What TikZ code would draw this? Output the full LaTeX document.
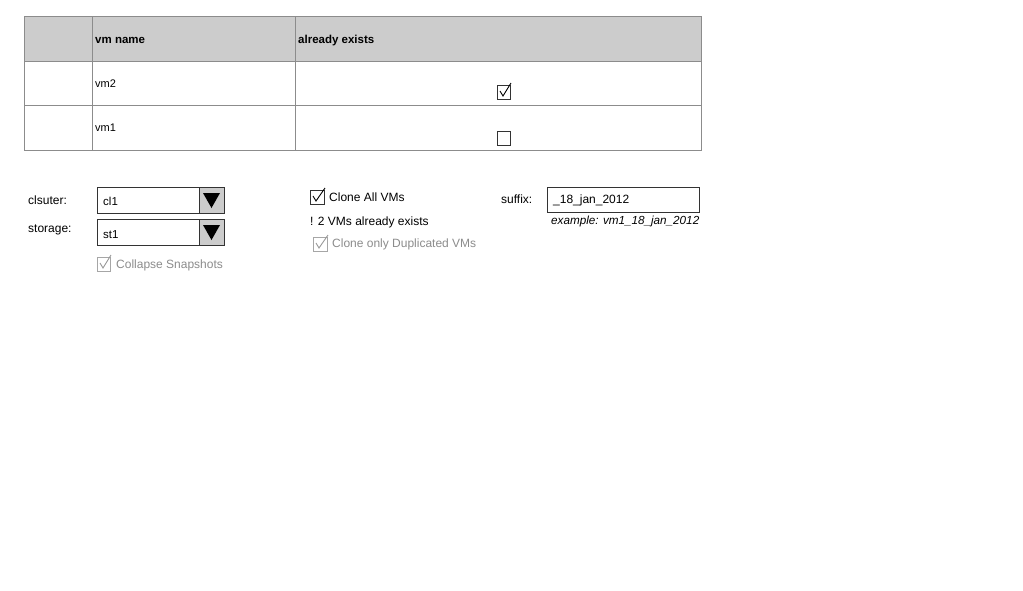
\documentclass[tikz,border=0pt]{standalone}
\usepackage{fontspec}
\setmainfont{Liberation Sans}
\begin{document}
\begin{tikzpicture}[x=1pt,y=-1pt,
  every node/.style={inner sep=0pt,anchor=base west,font=\fontsize{12}{14}\selectfont},
  grid/.style={draw=black!45,line width=0.8pt},
  cbox/.style={draw=black!80,line width=0.8pt,fill=white},
  gbox/.style={draw=black!35,line width=0.8pt,fill=white},
  field/.style={draw=black!80,line width=1pt,fill=white},
  btn/.style={draw=black!80,line width=1pt,fill=black!20},
  cell/.style={font=\fontsize{11}{13}\selectfont},
  glbl/.style={text=black!45},
  hdr/.style={font=\fontsize{11.5}{13}\selectfont\bfseries}]
\useasboundingbox[fill=white] (0,0) rectangle (1023,590);
% table
\fill[black!20] (24,16) rectangle (701,61);
\draw[grid] (24,16) rectangle (701,150);
\draw[grid] (24,61) -- (701,61);
\draw[grid] (24,105) -- (701,105);
\draw[grid] (92,16) -- (92,150);
\draw[grid] (295,16) -- (295,150);
\node[hdr] (h1) at (95,43) {vm name};
\node[hdr] (h2) at (298,43) {already exists};
\node[cell] (r1) at (95,87) {vm2};
\node[cell] (r2) at (95,131) {vm1};
\draw[cbox] (497,85) rectangle (510,99);
\draw[line width=0.9pt] (500,91) -- (503,96) -- (511,83);
\draw[cbox] (497,131) rectangle (510,145);
% cluster
\node (cl) at (28,204) {clsuter:};
\draw[field] (97,187) rectangle (224,213);
\draw[btn] (199,187) rectangle (224,213);
\fill (203,193) -- (220,193) -- (211.5,208) -- cycle;
\node[font=\fontsize{11.5}{13}\selectfont] (clv) at (103,205) {cl1};
\node (st) at (28,232) {storage:};
\draw[field] (97,219) rectangle (224,245);
\draw[btn] (199,219) rectangle (224,245);
\fill (203,225) -- (220,225) -- (211.5,240) -- cycle;
\node[font=\fontsize{11.5}{13}\selectfont] (stv) at (103,238) {st1};
\draw[gbox] (97,257) rectangle (110,271);
\draw[black!40,line width=0.9pt] (100,263) -- (103,268) -- (111,255);
\node[glbl] (cs) at (116,268) {Collapse Snapshots};
% clone
\draw[cbox] (310,190) rectangle (324,204);
\draw[line width=0.9pt] (313,196) -- (316,201) -- (325,188);
\node (ca) at (329,201) {Clone All VMs};
\node (ex) at (310,225) {! 2 VMs already exists};
\draw[gbox] (313,237) rectangle (327,251);
\draw[black!40,line width=0.9pt] (316,243) -- (319,248) -- (328,235);
\node[glbl] (cd) at (332,247) {Clone only Duplicated VMs};
% suffix
\node (sf) at (501,203) {suffix:};
\draw[field] (547,187) rectangle (699,212);
\node (sv) at (553,203.5) {\_18\_jan\_2012};
\node[font=\fontsize{11.7}{14}\selectfont\itshape] (eg) at (551,224) {example: vm1\_18\_jan\_2012};
\end{tikzpicture}
\end{document}
